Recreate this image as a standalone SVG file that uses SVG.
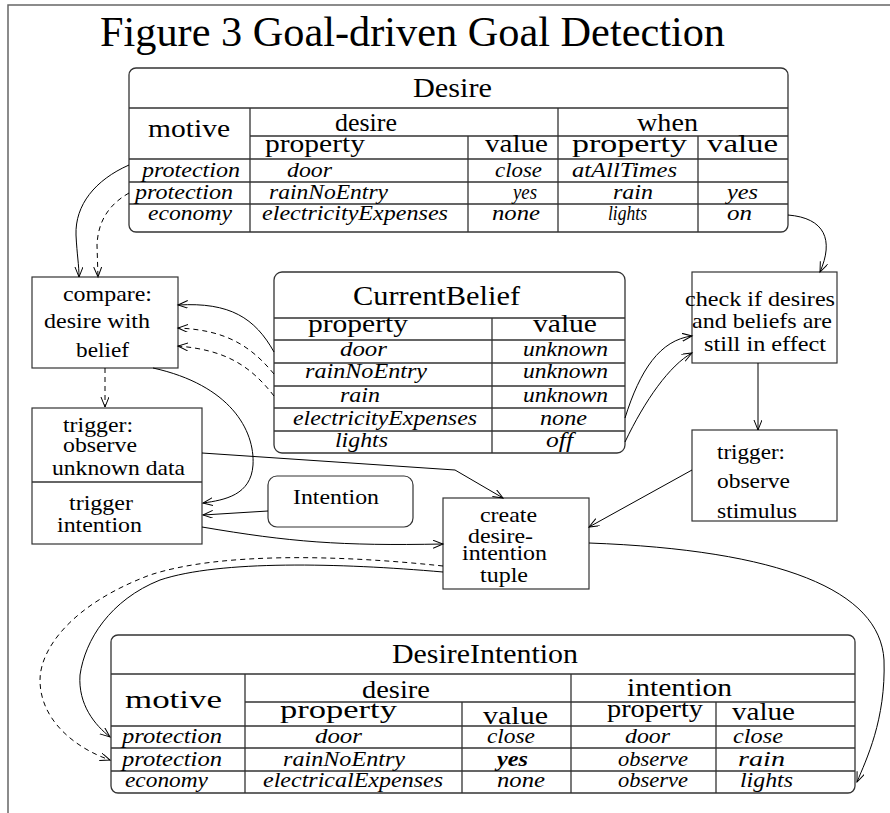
<svg xmlns="http://www.w3.org/2000/svg" width="890" height="813" viewBox="0 0 890 813">
<style>
text{font-family:"Liberation Serif","Times New Roman",serif;fill:#000}
.ttl{font-size:42px}
.th{font-size:27px}
.hd{font-size:26px}
.it{font-size:21px;font-style:italic}
.bx{font-size:22px}
.tbl{fill:#fff;stroke:#333;stroke-width:1.3}
.ln{stroke:#333;stroke-width:1.3;fill:none}
.box{fill:#fff;stroke:#333;stroke-width:1.2}
.c{fill:none;stroke:#000;stroke-width:1}
.d{stroke-dasharray:5,4}
</style>
<defs>
<marker id="a" markerUnits="userSpaceOnUse" markerWidth="12" markerHeight="10" refX="10" refY="4" orient="auto">
<path d="M0,0 L10,4 L0,8" fill="none" stroke="#000" stroke-width="1"/>
</marker>
</defs>
<rect width="890" height="813" fill="#fff"/>
<path d="M8,813 L8,5 L890,5" fill="none" stroke="#666" stroke-width="1.5"/>
<text class="ttl" x="100" y="46" textLength="625" lengthAdjust="spacingAndGlyphs">Figure 3 Goal-driven Goal Detection</text>

<g id="desire">
<rect class="tbl" x="129" y="68" width="659" height="164" rx="7"/>
<path class="ln" d="M129,108 H788 M250,136 H788 M129,159 H788 M129,182 H788 M129,204 H788 M250,108 V232 M558,108 V232 M468,136 V232 M698,136 V232"/>
<text class="th" x="413" y="97" textLength="79" lengthAdjust="spacingAndGlyphs">Desire</text>
<text class="hd" x="148" y="137" textLength="82" lengthAdjust="spacingAndGlyphs">motive</text>
<text class="hd" x="335" y="131" textLength="62" lengthAdjust="spacingAndGlyphs">desire</text>
<text class="hd" x="637" y="131" textLength="61" lengthAdjust="spacingAndGlyphs">when</text>
<text class="hd" x="265" y="152" textLength="100" lengthAdjust="spacingAndGlyphs">property</text>
<text class="hd" x="485" y="152" textLength="63" lengthAdjust="spacingAndGlyphs">value</text>
<text class="hd" x="572" y="152" textLength="115" lengthAdjust="spacingAndGlyphs">property</text>
<text class="hd" x="707" y="152" textLength="71" lengthAdjust="spacingAndGlyphs">value</text>
<text class="it" x="142" y="177" textLength="98" lengthAdjust="spacingAndGlyphs">protection</text>
<text class="it" x="287" y="177" textLength="45" lengthAdjust="spacingAndGlyphs">door</text>
<text class="it" x="495" y="177" textLength="47" lengthAdjust="spacingAndGlyphs">close</text>
<text class="it" x="572" y="177" textLength="105" lengthAdjust="spacingAndGlyphs">atAllTimes</text>
<text class="it" x="135" y="199" textLength="98" lengthAdjust="spacingAndGlyphs">protection</text>
<text class="it" x="269" y="199" textLength="119" lengthAdjust="spacingAndGlyphs">rainNoEntry</text>
<text class="it" x="513" y="199" textLength="24" lengthAdjust="spacingAndGlyphs">yes</text>
<text class="it" x="613" y="199" textLength="40" lengthAdjust="spacingAndGlyphs">rain</text>
<text class="it" x="727" y="199" textLength="31" lengthAdjust="spacingAndGlyphs">yes</text>
<text class="it" x="148" y="220" textLength="84" lengthAdjust="spacingAndGlyphs">economy</text>
<text class="it" x="262" y="220" textLength="186" lengthAdjust="spacingAndGlyphs">electricityExpenses</text>
<text class="it" x="492" y="220" textLength="48" lengthAdjust="spacingAndGlyphs">none</text>
<text class="it" x="608" y="220" textLength="39" lengthAdjust="spacingAndGlyphs">lights</text>
<text class="it" x="727" y="220" textLength="25" lengthAdjust="spacingAndGlyphs">on</text>
</g>

<g id="currentbelief">
<rect class="tbl" x="274" y="272" width="351" height="181" rx="8"/>
<path class="ln" d="M274,318 H625 M274,340 H625 M274,363 H625 M274,386 H625 M274,408 H625 M274,431 H625 M492,318 V453"/>
<text class="th" x="353" y="305" textLength="167" lengthAdjust="spacingAndGlyphs">CurrentBelief</text>
<text class="hd" x="308" y="332" textLength="100" lengthAdjust="spacingAndGlyphs">property</text>
<text class="hd" x="533" y="332" textLength="64" lengthAdjust="spacingAndGlyphs">value</text>
<text class="it" x="340" y="356" textLength="47" lengthAdjust="spacingAndGlyphs">door</text>
<text class="it" x="305" y="378" textLength="122" lengthAdjust="spacingAndGlyphs">rainNoEntry</text>
<text class="it" x="340" y="402" textLength="40" lengthAdjust="spacingAndGlyphs">rain</text>
<text class="it" x="293" y="425" textLength="184" lengthAdjust="spacingAndGlyphs">electricityExpenses</text>
<text class="it" x="335" y="447" textLength="53" lengthAdjust="spacingAndGlyphs">lights</text>
<text class="it" x="523" y="356" textLength="85" lengthAdjust="spacingAndGlyphs">unknown</text>
<text class="it" x="523" y="378" textLength="85" lengthAdjust="spacingAndGlyphs">unknown</text>
<text class="it" x="523" y="402" textLength="85" lengthAdjust="spacingAndGlyphs">unknown</text>
<text class="it" x="540" y="425" textLength="47" lengthAdjust="spacingAndGlyphs">none</text>
<text class="it" x="546" y="447" textLength="27" lengthAdjust="spacingAndGlyphs">off</text>
</g>

<g id="compare">
<rect class="box" x="32" y="277" width="146" height="91"/>
<text class="bx" x="63" y="301" textLength="89" lengthAdjust="spacingAndGlyphs">compare:</text>
<text class="bx" x="44" y="328" textLength="106" lengthAdjust="spacingAndGlyphs">desire with</text>
<text class="bx" x="76" y="357" textLength="53" lengthAdjust="spacingAndGlyphs">belief</text>
</g>

<g id="trigger">
<rect class="box" x="32" y="408" width="170" height="136"/>
<path class="ln" d="M32,482 H202"/>
<text class="bx" x="63" y="432" textLength="70" lengthAdjust="spacingAndGlyphs">trigger:</text>
<text class="bx" x="63" y="452" textLength="74" lengthAdjust="spacingAndGlyphs">observe</text>
<text class="bx" x="52" y="475" textLength="133" lengthAdjust="spacingAndGlyphs">unknown data</text>
<text class="bx" x="69" y="510" textLength="64" lengthAdjust="spacingAndGlyphs">trigger</text>
<text class="bx" x="57" y="532" textLength="85" lengthAdjust="spacingAndGlyphs">intention</text>
</g>

<g id="intention">
<rect class="box" x="268" y="476" width="145" height="51" rx="9"/>
<text class="bx" x="293" y="504" textLength="86" lengthAdjust="spacingAndGlyphs">Intention</text>
</g>

<g id="check">
<rect class="box" x="692" y="272" width="145" height="91"/>
<text class="bx" x="685" y="306" textLength="150" lengthAdjust="spacingAndGlyphs">check if desires</text>
<text class="bx" x="692" y="328" textLength="140" lengthAdjust="spacingAndGlyphs">and beliefs are</text>
<text class="bx" x="704" y="351" textLength="122" lengthAdjust="spacingAndGlyphs">still in effect</text>
</g>

<g id="stimulus">
<rect class="box" x="692" y="430" width="145" height="91"/>
<text class="bx" x="717" y="459" textLength="68" lengthAdjust="spacingAndGlyphs">trigger:</text>
<text class="bx" x="717" y="488" textLength="73" lengthAdjust="spacingAndGlyphs">observe</text>
<text class="bx" x="717" y="518" textLength="80" lengthAdjust="spacingAndGlyphs">stimulus</text>
</g>

<g id="create">
<rect class="box" x="443" y="498" width="146" height="91"/>
<text class="bx" x="480" y="522" textLength="57" lengthAdjust="spacingAndGlyphs">create</text>
<text class="bx" x="468" y="543" textLength="65" lengthAdjust="spacingAndGlyphs">desire-</text>
<text class="bx" x="462" y="560" textLength="85" lengthAdjust="spacingAndGlyphs">intention</text>
<text class="bx" x="480" y="582" textLength="48" lengthAdjust="spacingAndGlyphs">tuple</text>
</g>

<g id="desireintention">
<rect class="tbl" x="111" y="635" width="744" height="158" rx="7"/>
<path class="ln" d="M111,674 H855 M245,702 H855 M111,726 H855 M111,748 H855 M111,771 H855 M245,674 V793 M571,674 V793 M462,702 V793 M716,702 V793"/>
<text class="th" x="392" y="663" textLength="186" lengthAdjust="spacingAndGlyphs">DesireIntention</text>
<text class="hd" x="125" y="708" textLength="97" lengthAdjust="spacingAndGlyphs">motive</text>
<text class="hd" x="362" y="698" textLength="68" lengthAdjust="spacingAndGlyphs">desire</text>
<text class="hd" x="280" y="718" textLength="117" lengthAdjust="spacingAndGlyphs">property</text>
<text class="hd" x="483" y="724" textLength="65" lengthAdjust="spacingAndGlyphs">value</text>
<text class="hd" x="627" y="696" textLength="105" lengthAdjust="spacingAndGlyphs">intention</text>
<text class="hd" x="607" y="717" textLength="96" lengthAdjust="spacingAndGlyphs">property</text>
<text class="hd" x="732" y="720" textLength="63" lengthAdjust="spacingAndGlyphs">value</text>
<text class="it" x="122" y="743" textLength="100" lengthAdjust="spacingAndGlyphs">protection</text>
<text class="it" x="315" y="743" textLength="47" lengthAdjust="spacingAndGlyphs">door</text>
<text class="it" x="487" y="743" textLength="48" lengthAdjust="spacingAndGlyphs">close</text>
<text class="it" x="625" y="743" textLength="45" lengthAdjust="spacingAndGlyphs">door</text>
<text class="it" x="733" y="743" textLength="50" lengthAdjust="spacingAndGlyphs">close</text>
<text class="it" x="122" y="766" textLength="100" lengthAdjust="spacingAndGlyphs">protection</text>
<text class="it" x="283" y="766" textLength="122" lengthAdjust="spacingAndGlyphs">rainNoEntry</text>
<text class="it" x="497" y="766" textLength="31" lengthAdjust="spacingAndGlyphs" font-weight="bold">yes</text>
<text class="it" x="618" y="766" textLength="70" lengthAdjust="spacingAndGlyphs">observe</text>
<text class="it" x="738" y="766" textLength="47" lengthAdjust="spacingAndGlyphs">rain</text>
<text class="it" x="125" y="787" textLength="83" lengthAdjust="spacingAndGlyphs">economy</text>
<text class="it" x="263" y="787" textLength="180" lengthAdjust="spacingAndGlyphs">electricalExpenses</text>
<text class="it" x="497" y="787" textLength="48" lengthAdjust="spacingAndGlyphs">none</text>
<text class="it" x="618" y="787" textLength="70" lengthAdjust="spacingAndGlyphs">observe</text>
<text class="it" x="740" y="787" textLength="53" lengthAdjust="spacingAndGlyphs">lights</text>
</g>

<g id="connectors">
<path class="c" marker-end="url(#a)" d="M129,165 C95,180 75,205 76,235 C77,255 79,265 79,277"/>
<path class="c d" marker-end="url(#a)" d="M129,193 C108,205 98,222 97,245 L98,277"/>
<path class="c" marker-end="url(#a)" d="M788,215 C825,218 834,240 820,272"/>
<path class="c" marker-end="url(#a)" d="M274,352 C255,318 230,302 178,305"/>
<path class="c d" marker-end="url(#a)" d="M274,374 C250,345 225,330 178,328"/>
<path class="c d" marker-end="url(#a)" d="M274,396 C250,365 225,350 178,346"/>
<path class="c d" marker-end="url(#a)" d="M105,368 L105,407"/>
<path class="c" marker-end="url(#a)" d="M153,368 C230,385 255,430 253,465 C251,495 225,500 203,503"/>
<path class="c" marker-end="url(#a)" d="M202,453 L455,470 L503,498"/>
<path class="c" marker-end="url(#a)" d="M268,511 L203,515"/>
<path class="c" marker-end="url(#a)" d="M202,527 C290,542 340,546 443,544"/>
<path class="c" marker-end="url(#a)" d="M625,418 C640,370 660,340 692,336"/>
<path class="c" marker-end="url(#a)" d="M625,442 C645,400 670,365 692,353"/>
<path class="c" marker-end="url(#a)" d="M758,363 L758,430"/>
<path class="c" marker-end="url(#a)" d="M692,470 L589,527"/>
<path class="c" marker-end="url(#a)" d="M589,543 C780,550 880,590 884,660 C886,720 866,760 857,782"/>
<path class="c d" marker-end="url(#a)" d="M443,566 C340,555 220,552 150,575 C70,605 40,650 40,680 C40,720 75,748 110,760"/>
<path class="c" marker-end="url(#a)" d="M443,572 C340,563 220,560 160,580 C110,600 85,640 80,675 C78,705 95,725 110,737"/>
</g>
</svg>
